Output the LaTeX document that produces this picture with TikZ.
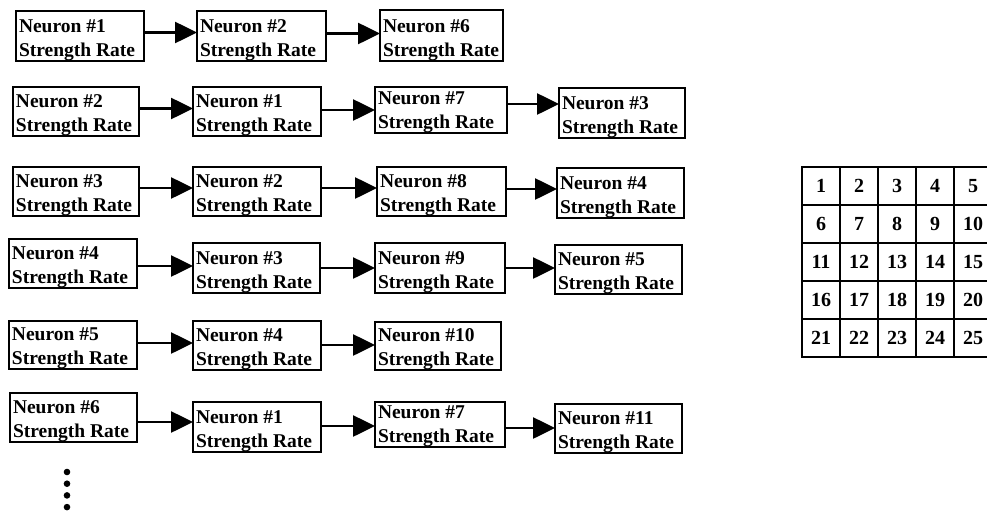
\documentclass[tikz,border=0pt]{standalone}
\usepackage{fontspec}
\setmainfont{Liberation Serif}
\usetikzlibrary{arrows.meta,calc}

\tikzset{
  nbox/.style={draw, line width=2.6pt, anchor=north west, inner sep=0pt, outer sep=0pt},
  ntext/.style={anchor=south west, inner sep=0pt, outer sep=0pt, align=left,
                font=\fontsize{19.5}{24}\selectfont\bfseries},
  link/.style={line width=2.6pt, -{Triangle[length=22pt,width=21pt]}},
  cell/.style={draw, line width=2.4pt, minimum size=38pt, inner sep=0pt, outer sep=0pt,
               font=\fontsize{20}{24}\selectfont\bfseries},
  dot/.style={circle, fill, inner sep=0pt, minimum size=6.6pt},
}

% neuron record: name, left, top, right, bottom, neuron number
\newcommand\neuronbox[6]{%
  \node[nbox, minimum width=#4-#2, minimum height=#5-#3] (#1) at (#2,#3) {};
  \node[ntext] (#1t) at (#2+3,#5+0.5)
    {\rule{0pt}{15pt}Neuron \##6\\Strength Rate\rule[-5pt]{0pt}{5pt}};
}
% horizontal link between two records at height y
\newcommand\linkrec[3]{%
  \coordinate (#1-#2) at (0,#3);
  \draw[link] (#1.east |- #1-#2) -- (#2.west |- #1-#2);
}

\begin{document}
\begin{tikzpicture}[x=1pt, y=-1pt]
\useasboundingbox (0,0) rectangle (987,514);
\clip (0,0) rectangle (987,514);

% row 1
\neuronbox{a1}{16}{11}{144}{61}{1}
\neuronbox{a2}{197}{11}{326}{61}{2}
\neuronbox{a3}{380}{10}{503}{61}{6}
\linkrec{a1}{a2}{32.5}
\linkrec{a2}{a3}{33.5}

% row 2
\neuronbox{b1}{13}{87}{139}{136}{2}
\neuronbox{b2}{193}{87}{321}{136}{1}
\neuronbox{b3}{375}{87}{507}{133}{7}
\neuronbox{b4}{559}{88}{685}{138}{3}
\linkrec{b1}{b2}{108.5}
\linkrec{b2}{b3}{110}
\linkrec{b3}{b4}{104}

% row 3
\neuronbox{c1}{13}{167}{139}{216}{3}
\neuronbox{c2}{193}{167}{321}{216}{2}
\neuronbox{c3}{377}{167}{506}{216}{8}
\neuronbox{c4}{557}{168}{684}{218}{4}
\linkrec{c1}{c2}{188}
\linkrec{c2}{c3}{188}
\linkrec{c3}{c4}{189}

% row 4
\neuronbox{d1}{9}{239}{137}{288}{4}
\neuronbox{d2}{193}{243}{320}{293}{3}
\neuronbox{d3}{375}{243}{505}{293}{9}
\neuronbox{d4}{555}{245}{682}{294}{5}
\linkrec{d1}{d2}{266}
\linkrec{d2}{d3}{268}
\linkrec{d3}{d4}{268}

% row 5
\neuronbox{e1}{9}{321}{137}{369}{5}
\neuronbox{e2}{193}{321}{321}{370}{4}
\neuronbox{e3}{375}{322}{501}{370}{10}
\linkrec{e1}{e2}{343}
\linkrec{e2}{e3}{345}

% row 6
\neuronbox{f1}{10}{393}{137}{442}{6}
\neuronbox{f2}{193}{402}{321}{452}{1}
\neuronbox{f3}{375}{402}{505}{447}{7}
\neuronbox{f4}{555}{404}{682}{453}{11}
\linkrec{f1}{f2}{422}
\linkrec{f2}{f3}{426}
\linkrec{f3}{f4}{428}

% continuation dots
\foreach \k in {0,...,3}
  \node[dot] (dot\k) at (67,472+11.7*\k) {};

% 5 x 5 neuron grid
\foreach \r in {0,...,4}
  \foreach \c in {0,...,4} {
    \pgfmathtruncatemacro\n{\r*5+\c+1}
    \node[cell] (g\n) at (821+38*\c,186+38*\r) {\n};
  }
\end{tikzpicture}
\end{document}
